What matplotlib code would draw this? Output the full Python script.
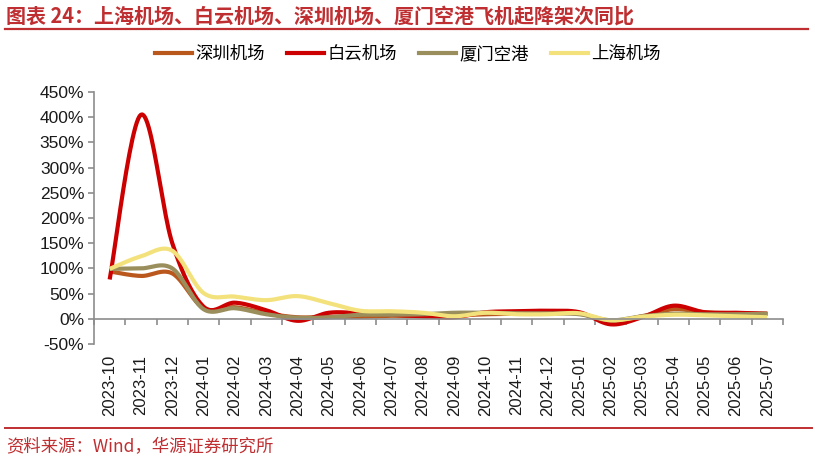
import numpy as np
import matplotlib
matplotlib.use("Agg")
import matplotlib.pyplot as plt
from matplotlib.lines import Line2D

months = ['2023-10', '2023-11', '2023-12', '2024-01', '2024-02', '2024-03', '2024-04',
          '2024-05', '2024-06', '2024-07', '2024-08', '2024-09', '2024-10', '2024-11',
          '2024-12', '2025-01', '2025-02', '2025-03', '2025-04', '2025-05', '2025-06',
          '2025-07']
shenzhen = [94, 85, 90, 21, 23, 11, 3, 4, 4, 6, 5, 7, 9, 10, 11, 10, -4, 5, 19, 13, 11, 10]
baiyun = [78, 405, 150, 24, 32, 17, -4, 12, 11, 8, 5, 3, 13, 15, 16, 13, -11, 3, 26, 13, 12, 10]
xiamen = [99, 100, 100, 19, 21, 9, 2, 3, 8, 8, 9, 12, 12, 11, 11, 9, -3, 5, 10, 9, 9, 10]
shanghai = [99, 124, 135, 51, 44, 37, 45, 31, 16, 15, 12, 5, 12, 9, 9, 11, -3, 4, 8, 7, 5, 3]
series_names = ['深圳机场', '白云机场', '厦门空港', '上海机场']
yticks = [-50, 0, 50, 100, 150, 200, 250, 300, 350, 400, 450]

colors = ['#B9571D', '#CC0000', '#998E5C', '#F3E27C']

CJK = ['Noto Sans CJK SC', 'DejaVu Sans']
LAT = ['Liberation Sans', 'DejaVu Sans']


def smooth(xs, ys, n=24):
    xs = np.asarray(xs, float)
    ys = np.asarray(ys, float)
    P = np.column_stack([xs, ys])
    P = np.vstack([P[0], P, P[-1]])
    outx, outy = [], []
    t = np.linspace(0, 1, n, endpoint=False)
    for i in range(1, len(P) - 2):
        p0, p1, p2, p3 = P[i - 1], P[i], P[i + 1], P[i + 2]
        c1 = p1 + (p2 - p0) / 6
        c2 = p2 - (p3 - p1) / 6
        for tt in t:
            b = ((1 - tt) ** 3) * p1 + 3 * ((1 - tt) ** 2) * tt * c1 + 3 * (1 - tt) * tt ** 2 * c2 + tt ** 3 * p2
            outx.append(b[0]); outy.append(b[1])
    outx.append(P[-2][0]); outy.append(P[-2][1])
    return np.array(outx), np.array(outy)


fig = plt.figure(figsize=(8.15, 4.61), dpi=100)
ax = fig.add_axes([94 / 815, 1 - 344 / 461, 689 / 815, 252 / 461])

x = np.arange(len(months))
for vals, c in zip([shenzhen, baiyun, xiamen, shanghai], colors):
    sx, sy = smooth(x, vals)
    ax.plot(sx, sy, color=c, lw=3.0, solid_capstyle='butt', solid_joinstyle='round')

ax.set_xlim(-0.5, len(months) - 0.5)
ax.set_ylim(-50, 450)

for s in ['top', 'right']:
    ax.spines[s].set_visible(False)
ax.spines['bottom'].set_position(('data', 0))
ax.spines['bottom'].set_color('#8C8C8C')
ax.spines['left'].set_color('#8C8C8C')
ax.spines['bottom'].set_linewidth(1.2)
ax.spines['left'].set_linewidth(1.2)

ax.set_xticks(np.arange(len(months) + 1) - 0.5)
ax.set_xticklabels([])
ax.tick_params(axis='x', which='major', direction='out', length=4, color='#8C8C8C', width=1.2)
ax.set_xticks(x, minor=True)
ax.set_xticklabels(months, minor=True, rotation=90, fontsize=12, family=LAT, color='#1a1a1a')
ax.tick_params(axis='x', which='minor', length=0, pad=26)

ax.set_yticks(yticks)
ax.set_yticklabels([f'{v}%' for v in yticks], fontsize=12.5, family=LAT, color='#1a1a1a')
ax.tick_params(axis='y', direction='out', length=4, color='#8C8C8C', width=1.2, pad=3)

# Title and decorations
title_color = '#BF2F32'
fig.text(6 / 815, 1 - 16 / 461, '图表 24：上海机场、白云机场、深圳机场、厦门空港飞机起降架次同比',
         fontsize=14.4, fontweight='bold', color=title_color, family=CJK, va='center', ha='left')
fig.add_artist(Line2D([5 / 815, 808 / 815], [1 - 29 / 461, 1 - 29 / 461], color=title_color, lw=1.6))
fig.add_artist(Line2D([5 / 815, 812 / 815], [1 - 428 / 461, 1 - 428 / 461], color=title_color, lw=1.4))
fig.text(6 / 815, 1 - 447 / 461, '资料来源：Wind，华源证券研究所', fontsize=12.5, color=title_color,
         family=CJK, va='center', ha='left')

# Legend
handles = [Line2D([0], [0], color=c, lw=3.0) for c in colors]
leg = fig.legend(handles, series_names, loc='center', bbox_to_anchor=(408 / 815, 1 - 54 / 461),
                 ncol=4, frameon=False, prop={'family': CJK, 'size': 12.5},
                 handlelength=2.1, handletextpad=0.2, columnspacing=1.3)

fig.savefig('out.png', dpi=100)
